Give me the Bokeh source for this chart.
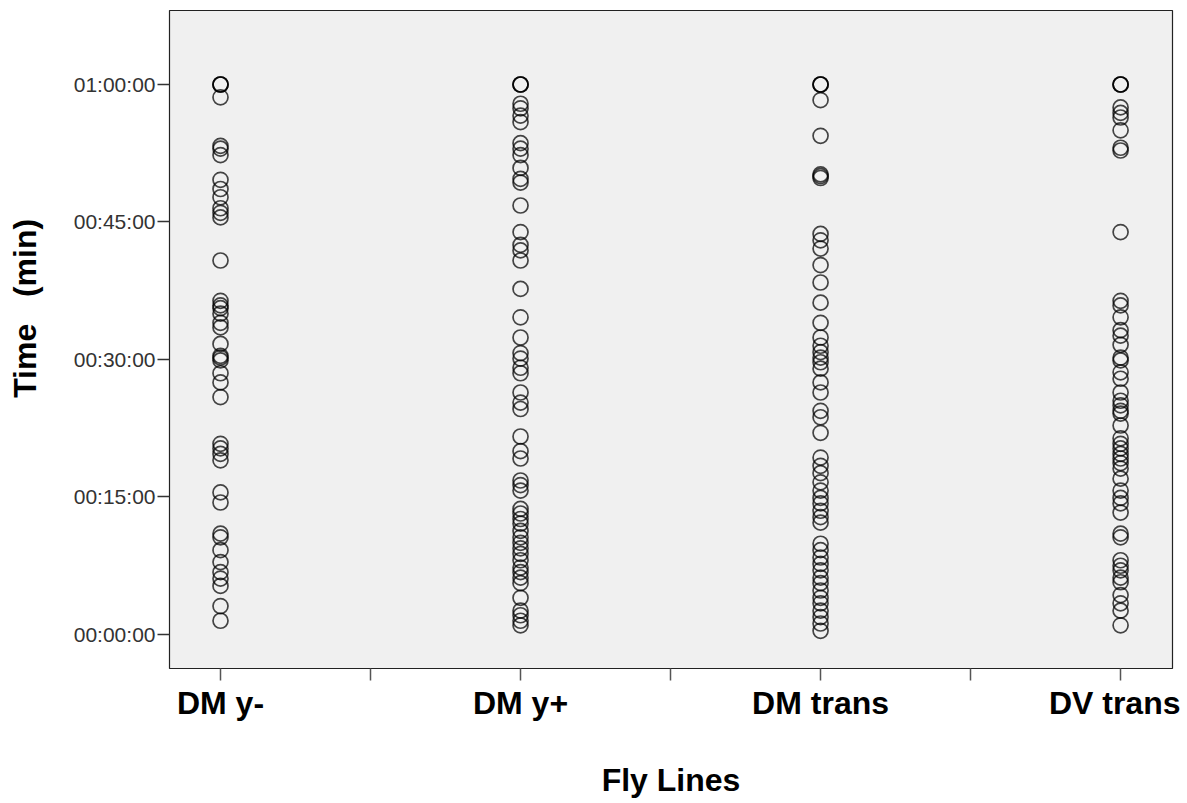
from bokeh.plotting import figure
from bokeh.models import Range1d, FixedTicker, ColumnDataSource
from bokeh.embed import file_html
from bokeh.resources import INLINE

categories = ["DM y-", "DM y+", "DM trans", "DV trans"]

dm_y_minus = [60, 60, 60, 58.6, 53.3, 53.0, 52.3, 49.6, 48.6, 47.7, 46.5, 46.0, 45.5,
              40.8, 36.4, 35.9, 35.6, 35.0, 34.0, 33.5, 31.7, 30.4, 30.2, 29.9, 28.5,
              27.5, 25.9, 20.8, 20.3, 19.7, 19.0, 15.5, 14.4, 11.0, 10.6, 9.2, 7.9,
              6.8, 6.1, 5.3, 3.1, 1.5]
dm_y_plus = [60, 60, 60, 57.9, 57.4, 56.6, 55.9, 53.6, 53.0, 52.3, 50.9, 49.7, 49.3,
             46.8, 43.9, 42.5, 41.9, 40.8, 37.7, 34.6, 32.4, 30.7, 30.1, 29.1, 28.5,
             26.4, 25.3, 24.6, 21.6, 20.0, 19.2, 16.8, 16.3, 15.7, 13.7, 13.2, 12.6,
             12.1, 11.3, 10.6, 10.0, 9.4, 8.8, 8.1, 7.3, 6.8, 6.2, 5.6, 4.0, 2.6,
             2.1, 1.5, 1.0]
dm_trans = [60, 60, 60, 58.3, 54.4, 50.2, 50.0, 49.8, 43.7, 43.0, 42.1, 40.3, 38.4,
            36.2, 34.0, 32.4, 31.5, 30.8, 30.2, 29.7, 29.0, 27.5, 26.4, 24.4, 23.7,
            22.0, 19.3, 18.4, 17.6, 16.6, 15.7, 14.9, 14.3, 13.5, 12.8, 12.2, 9.9,
            9.2, 8.4, 7.7, 7.0, 6.2, 5.6, 4.8, 4.0, 3.4, 2.6, 1.9, 1.2, 0.4]
dv_trans = [60, 60, 60, 57.5, 56.9, 56.4, 55.0, 53.1, 52.8, 43.9, 36.4, 35.9, 34.6,
            33.2, 32.6, 31.6, 30.2, 29.9, 28.6, 27.9, 26.4, 25.5, 25.0, 24.4, 24.1,
            22.8, 21.4, 20.8, 20.3, 19.7, 19.2, 18.7, 18.1, 17.0, 15.7, 14.9, 14.3,
            13.3, 11.0, 10.6, 8.1, 7.5, 7.0, 6.2, 5.7, 4.3, 3.4, 2.6, 1.0]

series = [dm_y_minus, dm_y_plus, dm_trans, dv_trans]

y_ticks = [0, 15, 30, 45, 60]
y_tick_labels = ["00:00:00", "00:15:00", "00:30:00", "00:45:00", "01:00:00"]
# leading non-breaking spaces lift the rotated title above the frame centre, as in the original
y_title = "\u00a0" * 7 + "Time\u00a0\u00a0\u00a0(min)"
x_title = "Fly Lines"

xs, ys = [], []
for i, vals in enumerate(series):
    xs.extend([i] * len(vals))
    ys.extend(vals)
src = ColumnDataSource(dict(x=xs, y=ys))

W, H = 1180, 800
p = figure(width=W, height=H, output_backend="svg", toolbar_location=None,
           x_range=Range1d(-0.17, 3.173), y_range=Range1d(-3.71, 68.07),
           min_border_left=169, min_border_right=W - 1172, min_border_top=10,
           min_border_bottom=H - 668)

p.background_fill_color = "#f0f0f0"
p.border_fill_color = "white"
p.outline_line_color = "#222222"
p.outline_line_width = 1.2
p.grid.visible = False

p.scatter("x", "y", source=src, marker="circle", size=15, fill_color=None,
          line_color="black", line_alpha=0.72, line_width=1.7)

font = "Liberation Sans"

# x axis
x_tick_pos = [0, 0.5, 1, 1.5, 2, 2.5, 3]
p.xaxis.ticker = FixedTicker(ticks=x_tick_pos)
overrides = {}
for t in x_tick_pos:
    overrides[t] = categories[int(t)] if float(t).is_integer() else ""
p.xaxis.major_label_overrides = overrides
p.xaxis.axis_line_color = None
p.xaxis.major_tick_out = 12
p.xaxis.major_tick_in = 0
p.xaxis.minor_tick_line_color = None
p.xaxis.major_tick_line_color = "#555555"
p.xaxis.major_tick_line_width = 1.5
p.xaxis.major_label_text_font = font
p.xaxis.major_label_text_font_size = "32px"
p.xaxis.major_label_text_font_style = "bold"
p.xaxis.major_label_text_color = "black"
p.xaxis.major_label_standoff = 4
p.xaxis.axis_label = x_title
p.xaxis.axis_label_text_font = font
p.xaxis.axis_label_text_font_size = "32px"
p.xaxis.axis_label_text_font_style = "bold"
p.xaxis.axis_label_text_color = "black"
p.xaxis.axis_label_standoff = 38

# y axis
p.yaxis.ticker = FixedTicker(ticks=y_ticks)
p.yaxis.major_label_overrides = {t: l for t, l in zip(y_ticks, y_tick_labels)}
p.yaxis.axis_line_color = None
p.yaxis.major_tick_out = 12
p.yaxis.major_tick_in = 0
p.yaxis.minor_tick_line_color = None
p.yaxis.major_tick_line_color = "#333333"
p.yaxis.major_tick_line_width = 1.5
p.yaxis.major_label_text_font = font
p.yaxis.major_label_text_font_size = "21px"
p.yaxis.major_label_text_color = "#333333"
p.yaxis.major_label_standoff = 2
p.yaxis.axis_label = y_title
p.yaxis.axis_label_text_font = font
p.yaxis.axis_label_text_font_size = "32px"
p.yaxis.axis_label_text_font_style = "bold"
p.yaxis.axis_label_text_color = "black"
p.yaxis.axis_label_standoff = 28

open("out.html", "w").write(file_html(p, INLINE))
